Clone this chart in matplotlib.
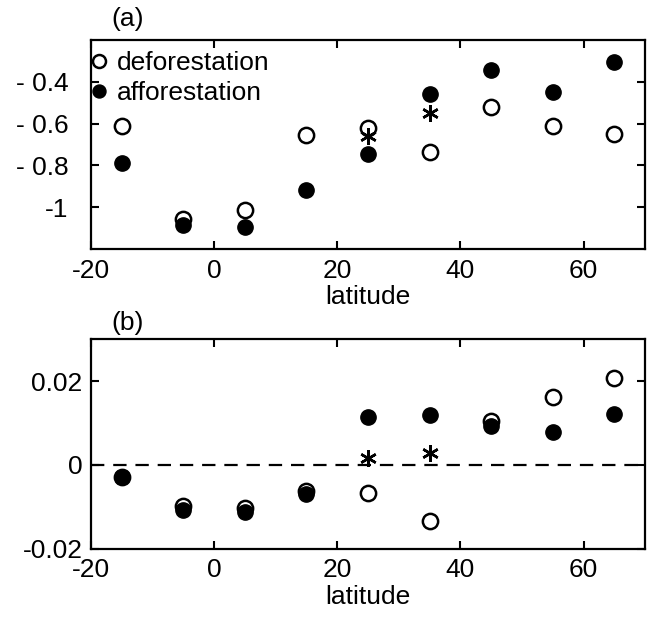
import matplotlib
matplotlib.use('Agg')
import matplotlib.pyplot as plt

plt.rcParams['font.family'] = ['Liberation Sans', 'DejaVu Sans']

# latitude bands
lat = [-15, -5, 5, 15, 25, 35, 45, 55, 65]

# panel (a)
defor_a = [-0.61, -1.057, -1.013, -0.652, -0.62, -0.737, -0.52, -0.613, -0.649]
affor_a = [-0.787, -1.086, -1.094, -0.918, -0.744, -0.457, -0.343, -0.449, -0.305]
star_lat = [25, 35]
star_a = [-0.66, -0.549]

# panel (b)
defor_b = [-0.003, -0.0098, -0.0103, -0.0062, -0.0066, -0.0133, 0.0105, 0.0161, 0.0208]
affor_b = [-0.0028, -0.0107, -0.0113, -0.007, 0.0115, 0.0119, 0.0094, 0.0079, 0.0121]
star_b = [0.0017, 0.0029]

xticks = [-20, 0, 20, 40, 60]
xticklabels = ['-20', '0', '20', '40', '60']
yticks_a = [-1, -0.8, -0.6, -0.4]
yticklabels_a = ['-1', '- 0.8', '- 0.6', '- 0.4']
yticks_b = [-0.02, 0, 0.02]
yticklabels_b = ['-0.02', '0', '0.02']

fs = 19
fig = plt.figure(figsize=(6.49, 6.19), dpi=100)
ax1 = fig.add_axes([0.140, 0.598, 0.854, 0.337])
ax2 = fig.add_axes([0.140, 0.1136, 0.854, 0.3384])

ms = 11
for ax in (ax1, ax2):
    ax.set_xlim(-20, 70)
    ax.set_xticks(xticks)
    ax.set_xticklabels(xticklabels)
    ax.tick_params(direction='in', length=6, width=1.5, top=True, right=True,
                   labelsize=fs)
    ax.tick_params(axis='x', pad=7)
    for s in ax.spines.values():
        s.set_linewidth(1.6)
    ax.set_xlabel('latitude', fontsize=fs, labelpad=2)

# (a)
ax1.plot(lat, defor_a, 'o', ms=ms, mfc='white', mec='black', mew=1.8,
         label='deforestation')
ax1.plot(lat, affor_a, 'o', ms=ms, mfc='black', mec='black', mew=1.0,
         label='afforestation')
ax1.plot(star_lat, star_a, ls='none', marker=(6, 2, 0), ms=12, mec='black',
         mew=1.8)
ax1.set_ylim(-1.2, -0.2)
ax1.set_yticks(yticks_a)
ax1.set_yticklabels(yticklabels_a)
ax1.tick_params(axis='y', pad=16)
ax1.legend(loc='upper left', bbox_to_anchor=(0.0, 0.955), frameon=False,
           fontsize=fs, markerscale=0.85, handlelength=0.5,
           handletextpad=0.45, borderaxespad=0.0, borderpad=0.05,
           labelspacing=0.22)
ax1.text(-14, -0.1, '(a)', fontsize=fs, ha='center', va='center')

# (b)
ax2.axhline(0, color='black', ls=(0, (6, 4)), lw=1.6)
ax2.plot(lat, defor_b, 'o', ms=ms, mfc='white', mec='black', mew=1.8)
ax2.plot(lat, affor_b, 'o', ms=ms, mfc='black', mec='black', mew=1.0)
ax2.plot(star_lat, star_b, ls='none', marker=(6, 2, 0), ms=12, mec='black',
         mew=1.8)
ax2.set_ylim(-0.02, 0.03)
ax2.set_yticks(yticks_b)
ax2.set_yticklabels(yticklabels_b)
ax2.tick_params(axis='y', pad=6)
ax2.text(-14, 0.0338, '(b)', fontsize=fs, ha='center', va='center')

fig.savefig('out.png', dpi=100)
